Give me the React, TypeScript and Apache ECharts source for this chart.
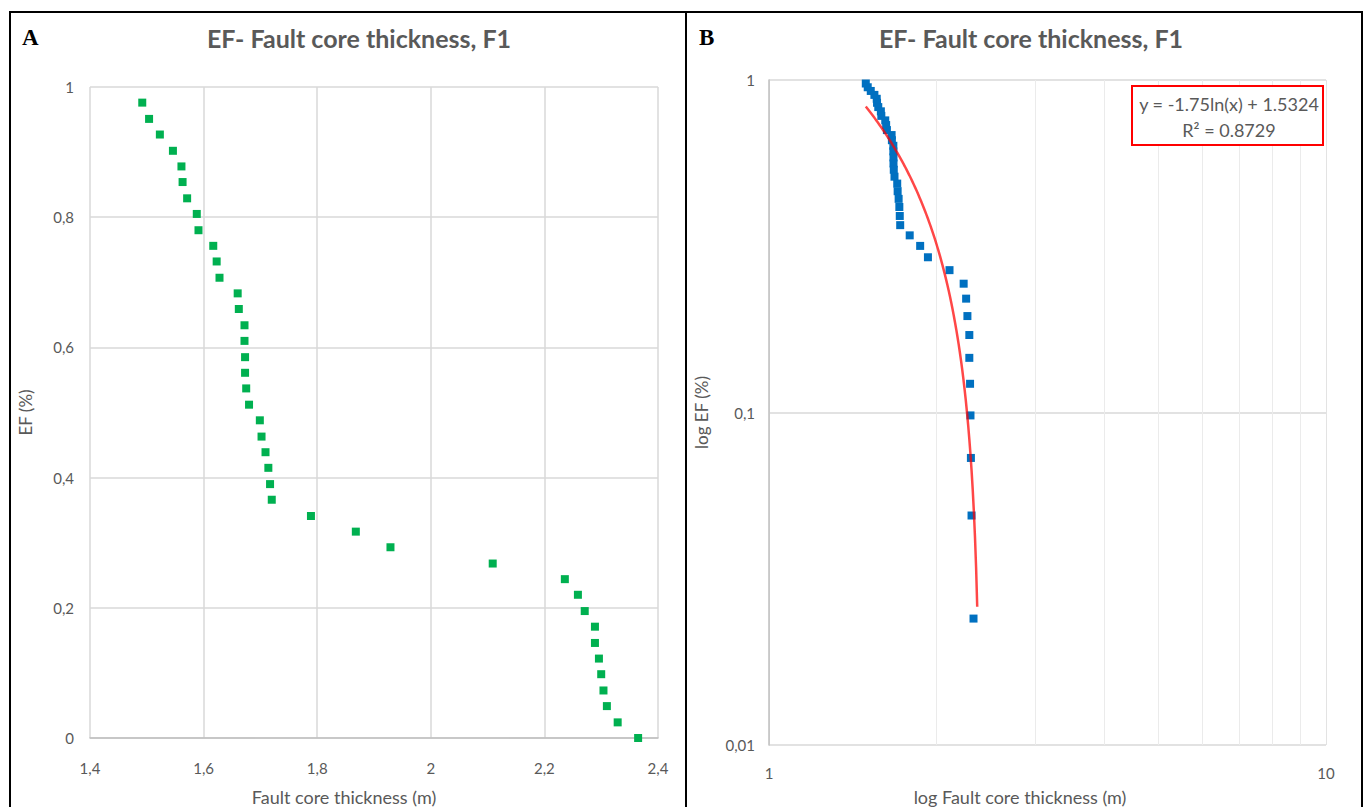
import React, { useEffect, useRef } from "react";
import * as echarts from "echarts";

// Fault core thickness (m) and exceedance frequency EF
const thickness = [
  1.492, 1.504, 1.523, 1.546, 1.561, 1.563, 1.571, 1.588, 1.591, 1.617,
  1.623, 1.628, 1.660, 1.662, 1.672, 1.672, 1.673, 1.673, 1.675, 1.680,
  1.699, 1.702, 1.709, 1.714, 1.717, 1.720, 1.789, 1.868, 1.929, 2.109,
  2.236, 2.259, 2.271, 2.289, 2.289, 2.296, 2.300, 2.304, 2.310, 2.329,
  2.365,
];
const ef = [
  0.976, 0.951, 0.927, 0.902, 0.878, 0.854, 0.829, 0.805, 0.780, 0.756,
  0.732, 0.707, 0.683, 0.659, 0.634, 0.610, 0.585, 0.561, 0.537, 0.512,
  0.488, 0.463, 0.439, 0.415, 0.390, 0.366, 0.341, 0.317, 0.293, 0.268,
  0.244, 0.220, 0.195, 0.171, 0.146, 0.122, 0.098, 0.073, 0.049, 0.024,
  0,
];
// logarithmic trendline shown in panel B: y = a ln(x) + b
const trendA = -1.75;
const trendB = 1.5324;
const trendLabel = ["y = -1.75ln(x) + 1.5324", "R² = 0.8729"];
const minorLogTicks = [2, 3, 4, 5, 6, 7, 8, 9];
const titleText = "EF- Fault core thickness, F1";
const xNames = ["Fault core thickness (m)", "log Fault core thickness (m)"];
const yNames = ["EF (%)", "log EF (%)"];

const FONT = "Lato";
const GRAY = "#595959";

const comma = (v: number) => String(v).replace(".", ",");

export default function App() {
  const ref = useRef<HTMLDivElement>(null);
  useEffect(() => {
    document.body.style.margin = "0";
    const chart = echarts.init(ref.current!, null, { renderer: "svg" });
    const pts = thickness.map((x, i) => [x, ef[i]]);
    const logPts = pts.filter((p) => p[1] > 0);
    const xMin = Math.min(...thickness);
    const xMax = Math.max(...thickness);
    const trend: number[][] = [];
    const n = 80;
    for (let i = 0; i <= n; i++) {
      const x = xMin + ((xMax - xMin) * i) / n;
      trend.push([x, trendA * Math.log(x) + trendB]);
    }
    const tickLabel = { color: GRAY, fontFamily: FONT, fontSize: 15 };
    const nameStyle = { color: GRAY, fontFamily: FONT, fontSize: 17 };
    const titleStyle = { color: GRAY, fontFamily: FONT, fontSize: 25, fontWeight: "bold" };
    const option: any = {
      animation: false,
      backgroundColor: "#fff",
      title: [
        { text: titleText, left: 354, top: 20, textAlign: "center", textStyle: titleStyle },
        { text: titleText, left: 1026, top: 20, textAlign: "center", textStyle: titleStyle },
      ],
      grid: [
        { left: 90, right: 707, top: 87, bottom: 69 },
        { left: 769, right: 39, top: 80, bottom: 62 },
      ],
      xAxis: [
        {
          type: "value",
          gridIndex: 0,
          min: 1.4,
          max: 2.4,
          interval: 0.2,
          axisLine: { lineStyle: { color: "#BFBFBF", width: 1.5 } },
          axisTick: { show: false },
          axisLabel: { ...tickLabel, margin: 22, formatter: (v: number) => comma(Math.round(v * 10) / 10) },
          splitLine: { show: true, lineStyle: { color: "#D9D9D9", width: 1.5 } },
        },
        {
          type: "log",
          logBase: 10,
          gridIndex: 1,
          min: 1,
          max: 10,
          axisLine: { show: false },
          axisTick: { show: false },
          axisLabel: { ...tickLabel, margin: 20, formatter: (v: number) => String(v) },
          splitLine: { show: true, lineStyle: { color: "#E3E3E3", width: 1 } },
        },
      ],
      yAxis: [
        {
          type: "value",
          gridIndex: 0,
          min: 0,
          max: 1,
          interval: 0.2,
          name: yNames[0],
          nameLocation: "middle",
          nameGap: 56,
          nameTextStyle: nameStyle,
          axisLine: { show: false },
          axisTick: { show: false },
          axisLabel: { ...tickLabel, margin: 16, formatter: (v: number) => comma(Math.round(v * 10) / 10) },
          splitLine: { show: true, lineStyle: { color: "#D9D9D9", width: 1.5 } },
        },
        {
          type: "log",
          logBase: 10,
          gridIndex: 1,
          min: 0.01,
          max: 1,
          name: yNames[1],
          nameLocation: "middle",
          nameGap: 59,
          nameTextStyle: nameStyle,
          axisLine: { show: true, onZero: false, lineStyle: { color: "#BFBFBF", width: 1.5 } },
          axisTick: { show: false },
          axisLabel: { ...tickLabel, margin: 14, formatter: (v: number) => comma(v) },
          splitLine: { show: true, lineStyle: { color: "#D9D9D9", width: 1.5 } },
        },
      ],
      series: [
        {
          type: "scatter",
          xAxisIndex: 0,
          yAxisIndex: 0,
          data: pts,
          symbol: "rect",
          symbolSize: 8,
          itemStyle: { color: "#00B050", opacity: 1 },
        },
        {
          type: "scatter",
          xAxisIndex: 1,
          yAxisIndex: 1,
          data: logPts,
          symbol: "rect",
          symbolSize: 8,
          itemStyle: { color: "#0070C0", opacity: 1 },
          markLine: {
            silent: true,
            symbol: "none",
            label: { show: false },
            lineStyle: { color: "#EBEBEB", width: 1, type: "solid" },
            data: minorLogTicks.map((v) => ({ xAxis: v })),
            z: 0,
          },
        },
        {
          type: "line",
          xAxisIndex: 1,
          yAxisIndex: 1,
          data: trend,
          showSymbol: false,
          symbol: "none",
          lineStyle: { color: "#FF0000", width: 2.5, opacity: 0.72 },
          z: 5,
        },
      ],
      graphic: [
        { type: "line", shape: { x1: 10, y1: 12, x2: 1363, y2: 12 }, style: { stroke: "#000", lineWidth: 2 } },
        { type: "line", shape: { x1: 10, y1: 11, x2: 10, y2: 807 }, style: { stroke: "#000", lineWidth: 2 } },
        { type: "line", shape: { x1: 686, y1: 11, x2: 686, y2: 807 }, style: { stroke: "#000", lineWidth: 2 } },
        { type: "line", shape: { x1: 1362, y1: 11, x2: 1362, y2: 807 }, style: { stroke: "#000", lineWidth: 2 } },
        {
          type: "text",
          left: 22,
          top: 26,
          style: { text: "A", font: "bold 23px 'Liberation Serif', serif", fill: "#000" },
        },
        {
          type: "text",
          left: 699,
          top: 26,
          style: { text: "B", font: "bold 23px 'Liberation Serif', serif", fill: "#000" },
        },
        {
          type: "text",
          x: 344,
          y: 797,
          style: { text: xNames[0], font: `18px ${FONT}`, fill: GRAY, align: "center", verticalAlign: "middle" },
        },
        {
          type: "text",
          x: 1020,
          y: 797,
          style: { text: xNames[1], font: `18px ${FONT}`, fill: GRAY, align: "center", verticalAlign: "middle" },
        },
        {
          type: "rect",
          shape: { x: 1132, y: 86, width: 191, height: 59 },
          style: { fill: "#fff", stroke: "#FF0000", lineWidth: 2 },
          z: 10,
        },
        {
          type: "text",
          x: 1229,
          y: 104,
          style: { text: trendLabel[0], font: `18px ${FONT}`, fill: GRAY, align: "center", verticalAlign: "middle" },
          z: 11,
        },
        {
          type: "text",
          x: 1229,
          y: 130,
          style: { text: trendLabel[1], font: `18px ${FONT}`, fill: GRAY, align: "center", verticalAlign: "middle" },
          z: 11,
        },
      ],
    };
    chart.setOption(option);
    return () => chart.dispose();
  }, []);
  return <div ref={ref} style={{ width: 1365, height: 807 }} />;
}
